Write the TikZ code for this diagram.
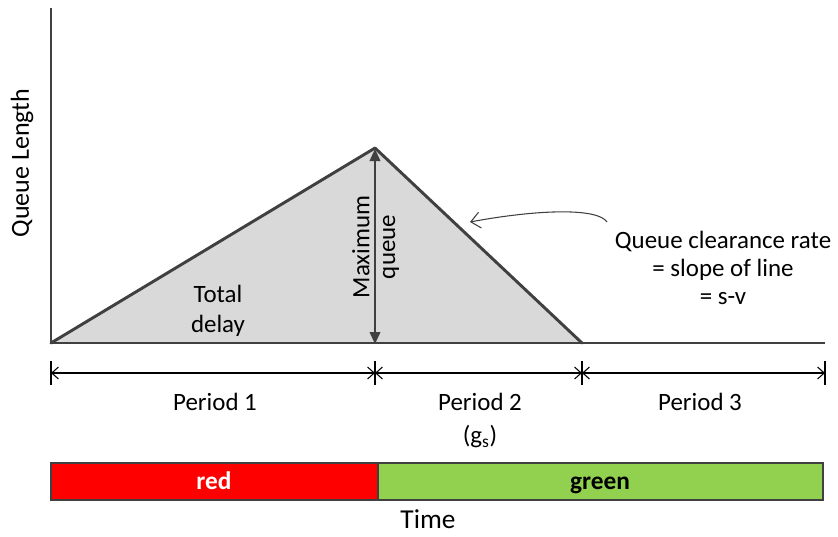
\documentclass[tikz,border=0pt]{standalone}
\usepackage{fontspec}
\setmainfont{Carlito}
\usetikzlibrary{arrows.meta}
\definecolor{dgray}{HTML}{404040}
\definecolor{lgray}{HTML}{D9D9D9}
\definecolor{sgreen}{HTML}{92D050}
\begin{document}
\begin{tikzpicture}[x=0.75pt,y=-0.75pt,
  axisline/.style={draw=dgray,line width=1.2pt},
  triline/.style={draw=dgray,line width=2.2pt,line join=round,line cap=round},
  dimline/.style={draw=black,line width=0.8pt,{Straight Barb[length=5pt,width=9pt]}-{Straight Barb[length=5pt,width=9pt]}},
  tickline/.style={draw=black,line width=0.8pt},
  lbl/.style={font=\fontsize{18.7}{22}\selectfont,inner sep=0pt},
  barbox/.style={draw=dgray,line width=1.2pt},
  bartext/.style={font=\fontsize{19}{22}\selectfont\bfseries,inner sep=0pt,anchor=base}]
\useasboundingbox (0,0) rectangle (838,536);
% key points
\coordinate (O) at (51,343);
\coordinate (Top) at (51,8);
\coordinate (P) at (375,148);
\coordinate (E) at (582,343);
\coordinate (R) at (825,343);
% triangle
\fill[lgray] (O) -- (P) -- (E) -- cycle;
\draw[axisline] (Top) -- (O) -- (R);
\draw[triline] (O) -- (P) -- (E);
% maximum queue arrow
\draw[draw=dgray,line width=1.2pt,-{Triangle[length=9pt,width=8pt]}] (375,200) -- (375,344);
\draw[draw=dgray,line width=1.2pt,-{Triangle[length=9pt,width=8pt]}] (375,200) -- (375,149);
\node[lbl,rotate=90] (maxq) at (361,247) {Maximum};
\node[lbl,rotate=90] (qq) at (391,247) {queue};
\node[lbl,align=center,font=\fontsize{18.7}{23}\selectfont] (td) at (218,311) {Total\\delay};
\node[lbl,rotate=90,font=\fontsize{19.5}{23}\selectfont] (ql) at (22,163) {Queue Length};
% clearance rate label
\node[lbl,align=center,font=\fontsize{18.7}{21}\selectfont] (qcr) at (723,268) {Queue clearance rate\\= slope of line\\= s-v};
\coordinate (cs) at (607,222);
\coordinate (ct) at (470,222);
\draw[draw=dgray,line width=0.8pt,-{Straight Barb[length=7pt,width=12pt]}] (cs) .. controls (598,208) and (540,209) .. (ct);
% dimension line
\coordinate (d0) at (51,373);
\coordinate (d1) at (375,373);
\coordinate (d2) at (582,373);
\coordinate (d3) at (825,373);
\draw[dimline] (d0) -- (d1);
\draw[dimline] (d1) -- (d2);
\draw[dimline] (d2) -- (d3);
\foreach \c in {d0,d1,d2,d3} \draw[tickline] ([yshift=9pt]\c) -- ([yshift=-9pt]\c);
\node[lbl] (p1) at (215,402) {Period 1};
\node[lbl] (p2) at (480,402) {Period 2};
\node[lbl] (gs) at (480,437) {(g\textsubscript{s})};
\node[lbl] (p3) at (700,402) {Period 3};
% signal bar
\draw[barbox,fill=red] (51,463) rectangle (378,500);
\draw[barbox,fill=sgreen] (378,463) rectangle (823,500);
\node[bartext,text=white] (red) at (214,489) {red};
\node[bartext,text=black] (green) at (600,489) {green};
\node[lbl,font=\fontsize{20.5}{24}\selectfont,anchor=base] (time) at (428,528) {Time};
\end{tikzpicture}
\end{document}
